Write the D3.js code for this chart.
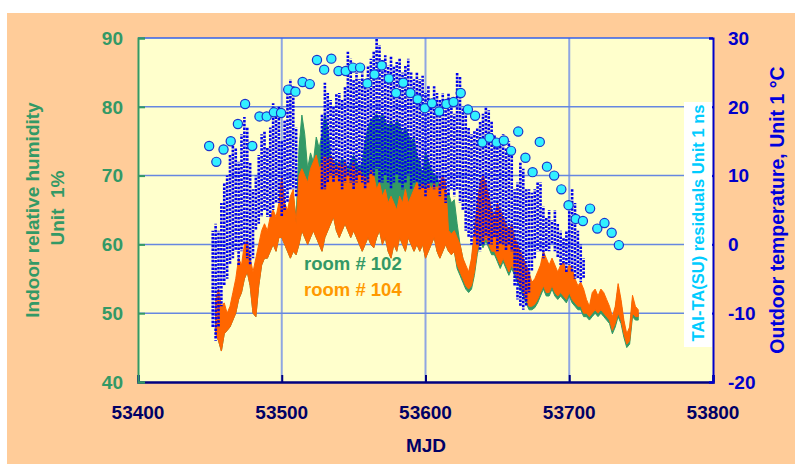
<!DOCTYPE html>
<html>
<head>
<meta charset="utf-8">
<title>Humidity and temperature</title>
<script src="https://d3js.org/d3.v7.min.js"></script>
<style>
body { margin:0; background:#fff; }
text { font-family: Arial, "Liberation Sans", sans-serif; font-weight:bold; }
</style>
</head>
<body>
<svg id="chart" width="795" height="464"></svg>
<script>
// humidity, sampled every 2 days from MJD 53454 (envelope hi / lo, unit %)
var humDates = d3.range(53454, 53749, 2);
var room104Hi = [52,53.5,51,51.5,50,51,53,55,58,57,
  60,60.5,58,56,58,60,62,63,62,64,
  65,64,66,70,66,65,67,68,63,70,
  71,70,69,71,72,73,71,72,73,72,
  73,72,71,72,71,72,70,71,72,70,
  71,70,70,69,71,70,68,69,67,68,
  66,67,66,65,67,66,68,66,67,68,
  69,68,69,68,69,68,69,68,69,70,
  69,62,61.5,62,61,60,58,57,56,58,
  62,66,69,70,69,67,65,64,66,65,
  64,63,62,63,61,60,59,58,57,56,
  54.5,55,56,57,59,58,57,58,57,56,
  57,57.5,56,57,56.5,55,54,54.5,53.5,52,
  51,53,53.5,52.5,53.5,53,52,51,49.5,51,
  54.3,52,49,47,48,52.6,51,50.5];
var room104Lo = [47,46,44.5,47,47.5,48,49,50,52,53,
  55,56,54,50,49.5,54,57,58,58,59,
  60,59,61,61,60,59,58,59,58.5,60,
  62,61,60,61,62,61,60,59,61,62,
  63,64,62,61,62,63,62,61,62,61,
  60,59,60,61,60,59.5,61,62,60,61,
  59,58,60,59,61,60,59,61,60,59,
  60,59,60,58,59,60,61,59,58,59,
  60,59,58.5,59,57,56,55,54,53.5,54,
  56,59,61,60,61,60,59,59,58,57,
  58,57,56,57,56,55,54,53,52,51,
  51,51.3,52,53,54,53,53,54,53,52.5,
  53,52.5,52,53,52,51.5,51,51,50,50,
  49.5,50,50.5,50,50.5,50,49.5,49,47.5,48.5,
  50,49,47,45.5,46,50,49.5,49.5];
var room102Hi = [51,52,50,50,49,50,52,54,56.5,56,
  59,59,57,55,57,59,61,62,61,63,
  64,63.5,65,69,65,64,66,67,64,74,
  78.8,76,71,73.3,72,75.6,74,76,79,77,
  73,72,72,71.5,72.5,72,71,72,73,72,
  71,72,75,77,78,78.5,79,78,79,78,
  77,78,77,78,77.5,76,77,76,75,75.5,
  73,72,70,73.5,72,71,70,70,68,69,
  67,67.5,66,66.5,63,60,58,56.5,55.5,57.5,
  61.5,65.5,68.5,69.5,68.5,66.5,64.5,63.5,65.5,64.5,
  63.5,62.5,61.5,62.5,60.5,59.5,58.5,57.5,56.5,55.5,
  54,54.5,55.5,56.5,58.5,57.5,56.5,57.5,56.5,55.5,
  56.5,57,55.5,56.5,56,54.5,53.5,54,53,51.5,
  50.5,52.5,53,52,53,52.5,51.5,50.5,49,50.5,
  53.8,51.5,48.5,46.5,47.5,52,50.5,50];
var room102Lo = [47,46,44.5,47,47.5,48,49,50,52,53,
  55,56,54,50,49.5,54,57,58,58,59,
  60,59,61,61,60,59,58,59,58.5,60,
  62,61,60,61,62,61,60,59,61,62,
  63,64,62,61,62,63,62,61,62,61,
  60,59,60,61,60,59.5,61,62,60,61,
  59,58,60,59,61,60,59,61,60,59,
  60,59,60,58,59,60,61,59,58,59,
  60,59,58.5,59,56.5,55.5,54.5,53.5,53,53.5,
  55.5,58.5,60.5,59.5,60.5,59.5,58.5,58.5,57.5,56.5,
  57.5,56.5,55.5,56.5,55.5,54.5,53.5,52.5,51.5,50.5,
  50.5,50.8,51.5,52.5,53.5,52.5,52.5,53.5,52.5,52,
  52.5,52,51.5,52.5,51.5,51,50.5,50.5,49.5,49.5,
  49,49.5,50,49.5,50,49.5,49,48.5,47,48,
  49.5,48.5,46.5,45,45.5,49.5,49,49];

// outdoor temperature, every 2 days from MJD 53452 (daily max / min, °C)
var tempDates = d3.range(53452, 53711, 2);
var tempHi = [2,3,2,6,9,10,13,14.5,14,12,
  16,18.5,17,12,8,10,13,16,16.5,14,
  17,20.5,19,20,15,18,22,24,23,17,
  null,null,null,null,null,null,null,null,19,23.5,
  22,21,20,22,22,21,23,28,27,24,
  25,24,25,23,26,27,28,30,29,27,
  27.5,26,27.5,26,26.5,27,25,26,27,25,
  24,25,24,24.5,22,23,21,23,22,21,
  22,20,22,20,19,25,24.5,20,19,17,
  16,16.5,17,18,19,20,19.5,18,16,15,
  15.5,16,14,15,13,8,9,12,11,8,
  8,7.5,8,9,9,5.5,4,5,3.5,5,
  3,2,1,2,5,8,6,2,0,-2];
var tempLo = [-12,-14,-12,-9,-6,-5,-3,-2,-1,-3,
  -1,0,-2,-3,-2,2,3,4,5,4,
  4,5,6,6,4,5,6,8,8,7,
  null,null,null,null,null,null,null,null,8,8,
  9,10,9,10,9,8,9,10,9,8,
  9,10,9,8,9,10,10,11,9,9,
  10,9,8,9,10,9,8,9,10,8,
  9,9,8,8,7,8,9,8,9,7,
  8,6,7,8,7,8,6,5,2,1,
  0,1,0,-1,0,1,0,0,1,-1,
  0,0,-1,0,-1,-6,-8,-9,-9.5,-9,
  -7,-4,-2,-1,-1,-2,-1,-1,0,-1,
  -2,-3,-3,-4,-3,-4,-5,-5,-5.5,-5];

// TAI-TA(SU) residuals, every 5 days
var resDates = d3.range(0, 58).map(function(i){ return 53449.5 + 5 * i; });
var residuals = [14.3,12.0,13.8,15.0,17.5,20.4,14.3,18.6,18.6,19.2,
  19.1,22.5,22.2,23.6,23.3,26.8,25.4,27.0,25.2,25.2,
  25.7,25.7,23.4,24.7,26.0,24.1,22.0,23.5,22.0,21.1,
  19.8,20.5,19.3,20.4,20.7,22.0,19.6,18.7,14.8,15.5,
  14.8,15.1,13.6,16.4,12.6,10.5,14.9,11.3,10.0,8.0,
  5.7,3.7,3.4,5.2,2.3,3.1,1.7,-0.1];

var xTicks = [53400, 53500, 53600, 53700, 53800];
var humTicks = [40, 50, 60, 70, 80, 90];
var tempTicks = [-20, -10, 0, 10, 20, 30];

var L = 138, R = 713, T = 38, B = 382;
var svg = d3.select('#chart');

svg.append('rect').attr('x', 7).attr('y', 13).attr('width', 788).attr('height', 451).attr('fill', '#ffcc99');
svg.append('rect').attr('x', L).attr('y', T).attr('width', R - L).attr('height', B - T).attr('fill', '#ffffcc');

var x = d3.scaleLinear().domain([53400, 53800]).range([L, R]);
var yL = d3.scaleLinear().domain([40, 90]).range([B, T]);
var yR = d3.scaleLinear().domain([-20, 30]).range([B, T]);

// grid
svg.selectAll('.vg').data([53500, 53600, 53700]).enter().append('line')
  .attr('x1', x).attr('x2', x).attr('y1', T).attr('y2', B)
  .attr('stroke', '#8fa6e2').attr('stroke-width', 2);
svg.selectAll('.hg').data([50, 60, 70, 80]).enter().append('line')
  .attr('x1', L).attr('x2', R).attr('y1', yL).attr('y2', yL)
  .attr('stroke', '#6687e0').attr('stroke-width', 1.5);
svg.append('line').attr('x1', L).attr('x2', R).attr('y1', T).attr('y2', T)
  .attr('stroke', '#3360ee').attr('stroke-width', 1.5);

// humidity bands
function band(hi, lo) {
  return d3.area()
    .x(function(d, i){ return x(humDates[i]); })
    .y0(function(d, i){ return yL(lo[i]); })
    .y1(function(d, i){ return yL(hi[i]); })(hi);
}
svg.append('path').attr('d', band(room102Hi, room102Lo))
  .attr('fill', '#339966').attr('stroke', '#339966').attr('stroke-width', 1);
svg.append('path').attr('d', band(room104Hi, room104Lo))
  .attr('fill', '#ff6600').attr('stroke', '#ff6600').attr('stroke-width', 1);

// temperature: dotted daily columns
var tempIdx = d3.range(tempDates.length).filter(function(i){ return tempHi[i] !== null; });
svg.append('g').selectAll('line').data(tempIdx).enter().append('line')
  .attr('x1', function(i){ return x(tempDates[i]); })
  .attr('x2', function(i){ return x(tempDates[i]); })
  .attr('y1', function(i){ return yR(tempLo[i]); })
  .attr('y2', function(i){ return yR(tempHi[i]); })
  .attr('stroke', '#0000ee').attr('stroke-width', 2.6)
  .attr('stroke-dasharray', '2.5,1.3')
  .attr('stroke-dashoffset', function(i){ return (i * 1.7) % 3.8; });

// residual circles
svg.append('g').selectAll('circle').data(residuals).enter().append('circle')
  .attr('cx', function(d, i){ return x(resDates[i]); })
  .attr('cy', function(d){ return yR(d); })
  .attr('r', 4.6)
  .attr('fill', '#33f0ff').attr('stroke', '#1a33cc').attr('stroke-width', 1.2);

// axes
var gx = svg.append('g').attr('transform', 'translate(0,' + B + ')')
  .call(d3.axisTop(x).tickValues(xTicks).tickSize(7).tickFormat(''));
gx.select('.domain').attr('stroke', '#000080').attr('stroke-width', 2.5);
gx.selectAll('.tick line').attr('stroke', '#000080').attr('stroke-width', 2);
svg.selectAll('.xl').data(xTicks).enter().append('text')
  .attr('x', x).attr('y', 419).attr('text-anchor', 'middle')
  .attr('font-size', 19).attr('fill', '#000066').text(function(d){ return d; });

var gl = svg.append('g').attr('transform', 'translate(' + L + ',0)')
  .call(d3.axisRight(yL).tickValues(humTicks).tickSize(7).tickFormat(''));
gl.select('.domain').attr('stroke', '#339966').attr('stroke-width', 2);
gl.selectAll('.tick line').attr('stroke', '#339966').attr('stroke-width', 2);
svg.selectAll('.ll').data(humTicks).enter().append('text')
  .attr('x', 123).attr('y', yL).attr('dy', '0.36em').attr('text-anchor', 'end')
  .attr('font-size', 19).attr('fill', '#339966').text(function(d){ return d; });

var gr = svg.append('g').attr('transform', 'translate(' + R + ',0)')
  .call(d3.axisLeft(yR).tickValues(tempTicks).tickSize(4).tickFormat(''));
gr.select('.domain').attr('stroke', '#0000cc').attr('stroke-width', 2);
gr.selectAll('.tick line').attr('stroke', '#0000cc').attr('stroke-width', 2);
svg.selectAll('.rl').data(tempTicks).enter().append('text')
  .attr('x', 728).attr('y', yR).attr('dy', '0.36em').attr('text-anchor', 'start')
  .attr('font-size', 19).attr('fill', '#0000cc').text(function(d){ return d; });

// titles
svg.append('text').attr('x', 426).attr('y', 452).attr('text-anchor', 'middle')
  .attr('font-size', 19).attr('fill', '#000066').text('MJD');
svg.append('text').attr('transform', 'translate(39,210) rotate(-90)').attr('text-anchor', 'middle')
  .attr('font-size', 19).attr('fill', '#339966').text('Indoor relative humidity');
svg.append('text').attr('transform', 'translate(64,208) rotate(-90)').attr('text-anchor', 'middle')
  .attr('font-size', 19).attr('fill', '#339966').attr('xml:space', 'preserve').text('Unit  1%');
svg.append('text').attr('transform', 'translate(784,210) rotate(-90)').attr('text-anchor', 'middle')
  .attr('font-size', 19.5).attr('fill', '#0000dd').text('Outdoor temperature, Unit 1 °C');

svg.append('rect').attr('x', 684).attr('y', 102).attr('width', 28).attr('height', 245).attr('fill', '#ffffff');
svg.append('text').attr('transform', 'translate(704,223) rotate(-90)').attr('text-anchor', 'middle')
  .attr('font-size', 16.5).attr('fill', '#00ccff').text('TAI-TA(SU) residuals Unit 1 ns');

// legend
svg.append('text').attr('x', 304).attr('y', 270).attr('font-size', 18.5).attr('fill', '#339966').text('room # 102');
svg.append('text').attr('x', 304).attr('y', 296).attr('font-size', 18.5).attr('fill', '#ff9900').text('room # 104');
</script>
</body>
</html>
